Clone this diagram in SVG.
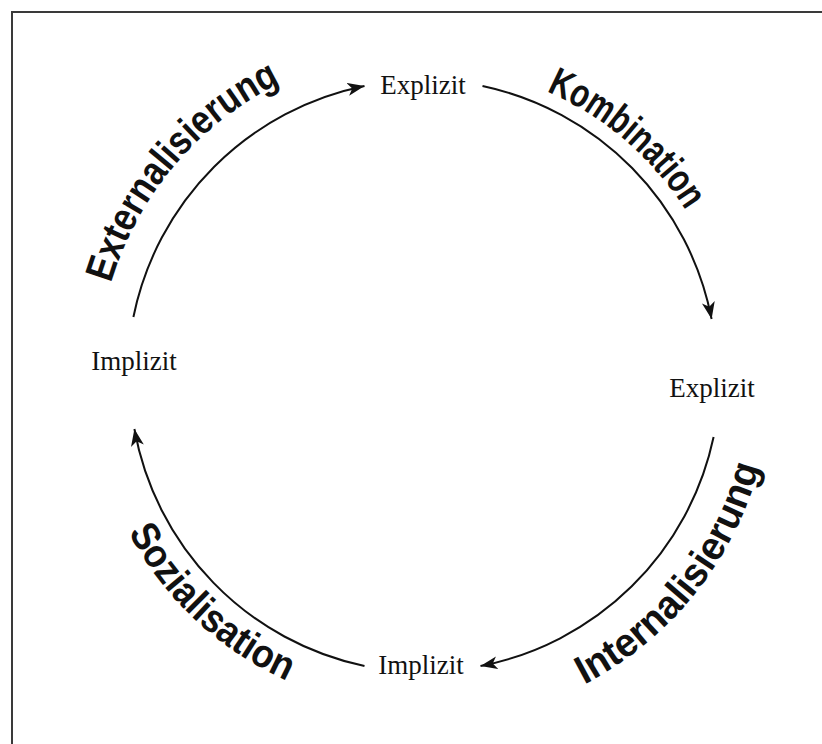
<svg xmlns="http://www.w3.org/2000/svg" width="822" height="744" viewBox="0 0 822 744">
  <style>
    .frame { stroke: #3a3a3a; stroke-width: 2; fill: none; }
    .arc { stroke: #111; stroke-width: 2; fill: none; marker-end: url(#stealth); }
    .node { font-family: "Liberation Serif", "Times New Roman", serif; font-size: 27px; fill: #111; text-anchor: middle; }
    .phase { font-family: "Liberation Sans", Arial, sans-serif; font-weight: bold; font-size: 40px; fill: #111; }
  </style>
  <defs>
    <marker id="stealth" markerUnits="userSpaceOnUse" markerWidth="20" markerHeight="14" refX="17" refY="6.5" orient="auto">
      <path d="M0,0 L17,6.5 L0,13 L4.5,6.5 Z" fill="#111"/>
    </marker>
    <!-- baselines for the curved phase labels -->
    <path id="p-ext" d="M105.9,302.7 A326,326 0 0 1 312,69.7"/>
    <path id="p-kom" d="M544.6,90.6 A310,310 0 0 1 704.5,245"/>
    <path id="p-int" d="M576.1,688.8 A348,348 0 0 0 763.9,448.4"/>
    <path id="p-soz" d="M120.8,517.2 A334,334 0 0 0 309.3,689.9"/>
  </defs>

  <rect width="822" height="744" fill="#fff"/>

  <!-- frame -->
  <g id="frame">
    <line class="frame" x1="11" y1="12" x2="822" y2="12"/>
    <line class="frame" x1="12" y1="11" x2="12" y2="744"/>
  </g>

  <!-- connectors -->
  <g id="connectors">
    <path class="arc" d="M133.4,317 A296,296 0 0 1 364.5,86"/>
    <path class="arc" d="M482.5,86 A296,296 0 0 1 711.6,319"/>
    <path class="arc" d="M713.6,437 A296,296 0 0 1 480.5,666"/>
    <path class="arc" d="M364.5,666 A296,296 0 0 1 134.4,429"/>
  </g>

  <!-- phase labels -->
  <g id="labels">
    <text class="phase"><textPath href="#p-ext" startOffset="20" textLength="270" lengthAdjust="spacingAndGlyphs">Externalisierung</textPath></text>
    <text class="phase"><textPath href="#p-kom" startOffset="2" textLength="186" lengthAdjust="spacingAndGlyphs">Kombination</textPath></text>
    <text class="phase"><textPath href="#p-int" startOffset="9" textLength="288" lengthAdjust="spacingAndGlyphs">Internalisierung</textPath></text>
    <text class="phase"><textPath href="#p-soz" startOffset="17" textLength="221" lengthAdjust="spacingAndGlyphs">Sozialisation</textPath></text>
  </g>

  <!-- nodes -->
  <g id="node-explizit-top"><text class="node" x="423" y="94">Explizit</text></g>
  <g id="node-explizit-right"><text class="node" x="712" y="397">Explizit</text></g>
  <g id="node-implizit-bottom"><text class="node" x="421" y="674">Implizit</text></g>
  <g id="node-implizit-left"><text class="node" x="134" y="370">Implizit</text></g>
</svg>
